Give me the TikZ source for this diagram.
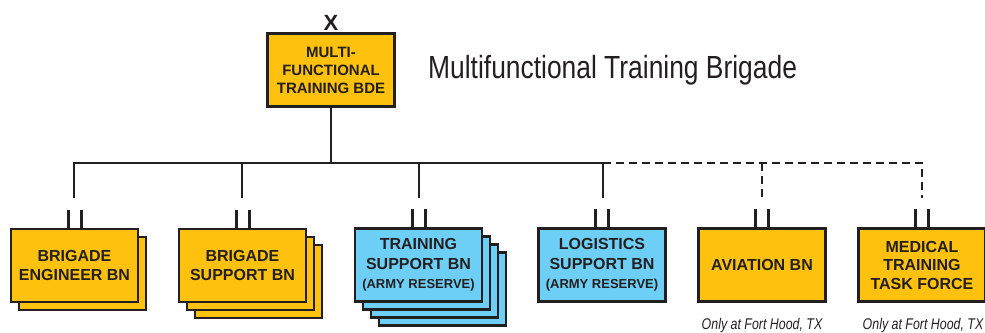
\documentclass[tikz,border=0pt]{standalone}
\usepackage{fontspec}
\setmainfont{Liberation Sans}
\newfontfamily\condfont[FakeStretch=0.8]{Liberation Sans}
\newfontfamily\titlefont[FakeStretch=0.825]{Liberation Sans}
\usetikzlibrary{calc}
\definecolor{yel}{HTML}{FEC20E}
\definecolor{blu}{HTML}{6DCFF6}
\definecolor{ink}{HTML}{231F20}
\begin{document}
\begin{tikzpicture}[x=1pt,y=-1pt,
  unit/.style={draw=ink, line width=2.5pt, minimum width=127pt, minimum height=73pt,
    inner sep=0pt, align=center, text=ink, font=\bfseries\fontsize{16}{18.5}\selectfont},
  yunit/.style={unit, fill=yel},
  bunit/.style={unit, fill=blu, font=\bfseries\fontsize{16}{19.3}\selectfont},
  conn/.style={draw=ink, line width=2pt},
  dconn/.style={conn, dash pattern=on 8pt off 5pt},
  bar/.style={draw=ink, line width=3pt},
  note/.style={font=\condfont\itshape\fontsize{15.5}{16}\selectfont, text=ink, anchor=base}]
\useasboundingbox (0,0) rectangle (985,332);
\newcommand{\smallres}{{\fontsize{13}{15}\selectfont (ARMY RESERVE)}}
% top node
\node[yunit, font=\bfseries\fontsize{15}{18}\selectfont] (top) at (331,70) {MULTI-\\FUNCTIONAL\\TRAINING BDE};
\node[font=\bfseries\fontsize{22}{22}\selectfont, text=ink, anchor=base, inner sep=0pt] (xmark) at (331,30) {X};
\node[font=\titlefont\fontsize{32}{36}\selectfont, text=ink, anchor=base west, inner sep=0pt] (title) at (428,78) {Multifunctional Training Brigade};
% shadows
\node[yunit] (b1s1) at (82.5,273.5) {};
\node[yunit] (b2s2) at (258.5,281.5) {};
\node[yunit] (b2s1) at (250.5,273.5) {};
\node[bunit] (b3s3) at (442.5,289) {};
\node[bunit] (b3s2) at (434.5,281) {};
\node[bunit] (b3s1) at (426.5,273) {};
% main boxes
\node[yunit] (b1) at (74.5,265.5) {BRIGADE\\ENGINEER BN};
\node[yunit] (b2) at (242.5,265.5) {BRIGADE\\SUPPORT BN};
\node[bunit] (b3) at (418.5,265) {TRAINING\\SUPPORT BN\\\smallres};
\node[bunit] (b4) at (602,265) {LOGISTICS\\SUPPORT BN\\\smallres};
\node[yunit] (b5) at (762,265) {AVIATION BN};
\node[yunit] (b6) at (922,265) {MEDICAL\\TRAINING\\TASK FORCE};
% notes
\node[note] (n5) at (762,329) {Only at Fort Hood, TX};
\node[note] (n6) at (923,329) {Only at Fort Hood, TX};
% bus coordinates
\coordinate (j0) at (331,163);
\coordinate (j1) at (74,163);
\coordinate (j2) at (242,163);
\coordinate (j3) at (419,163);
\coordinate (j4) at (603,163);
\coordinate (j5) at (762,163);
\coordinate (j6) at (922,163);
\coordinate (d1) at (74,198);
\coordinate (d2) at (242,198);
\coordinate (d3) at (419,198);
\coordinate (d4) at (603,198);
\coordinate (d5) at (762,198);
\coordinate (d6) at (922,198);
% connectors
\draw[conn] (top.south) -- (j0);
\draw[conn] ($(j1)+(-1,0)$) -- (j4);
\draw[conn] (j1) -- (d1);
\draw[conn] (j2) -- (d2);
\draw[conn] (j3) -- (d3);
\draw[conn] (j4) -- (d4);
\draw[dconn] (j4) -- (j6) -- (d6);
\draw[dconn] (j5) -- (d5);
% double bars
\foreach \b in {b1,b2,b3,b4,b5,b6}{
  \draw[bar] ($(\b.north)+(-6.5,0)$) -- ++(0,-18);
  \draw[bar] ($(\b.north)+(6.5,0)$) -- ++(0,-18);
}
\end{tikzpicture}
\end{document}
